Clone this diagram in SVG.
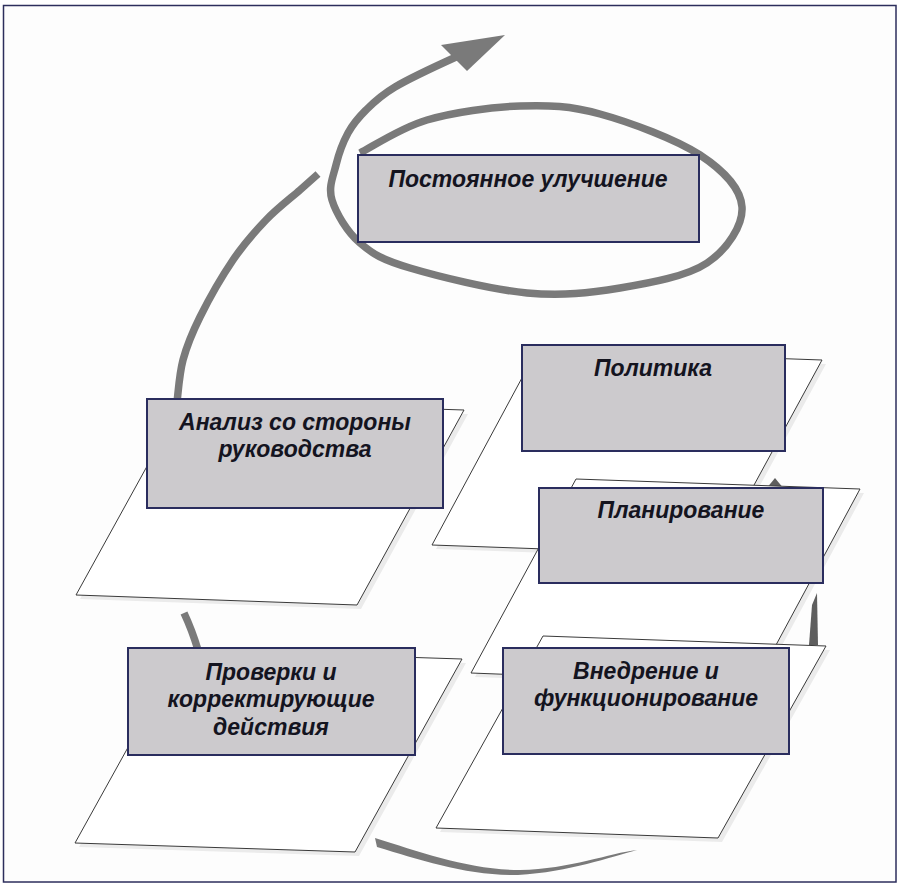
<svg xmlns="http://www.w3.org/2000/svg" width="900" height="887" viewBox="0 0 900 887">
<style>
  .plane { fill: #ffffff; stroke: #3a3a3a; stroke-width: 1; stroke-linejoin: miter; }
  .shadow { fill: #ebebeb; stroke: none; }
  .box { fill: #cccacd; stroke: #2a2d5e; stroke-width: 2; }
  .lbl { font-family: "Liberation Sans", Arial, sans-serif; font-size: 23px; font-weight: bold; font-style: italic; fill: #14141f; text-anchor: middle; }
  .band { fill: none; stroke: #7a7a7a; stroke-width: 7.5; stroke-linecap: butt; }
  .head { fill: #7a7a7a; }
  .sliver { fill: #5e5e5e; }
</style>
<rect x="0" y="0" width="900" height="887" fill="#ffffff"/>
<rect x="3.5" y="5.5" width="892.5" height="876.5" fill="#fdfdfd" stroke="#2c2e5c" stroke-width="1.5"/>

<g id="connectors">
  <!-- spiral loop around continual improvement, ending in arrowhead -->
  <path class="band" d="M360,153 C371.2,147.5 400.3,127.8 427,120 C453.7,112.2 491.2,107 520,106 C548.8,105 570,105.8 600,114 C630,122.2 676.3,139.5 700,155 C723.7,170.5 740.8,189 742,207 C743.2,225 727.3,249.5 707,263 C686.7,276.5 650,283 620,288 C590,293 562,296.3 527,293 C492,289.7 437.8,276.3 410,268 C382.2,259.7 373,254.3 360,243 C347,231.7 336,213 332,200 C328,187 333.3,176.2 336,165 C338.7,153.8 343,142.2 348,133 C353,123.8 358.2,117.7 366,110 C373.8,102.3 380.2,95.8 395,87 C409.8,78.2 445,62 456,57"/>
  <polygon class="head" points="505,35 441,45 467,71"/>
  <!-- arc from management review up toward the loop -->
  <path class="band" d="M177,402 C178,395 179.2,374.2 183,360 C186.8,345.8 191.7,333.7 200,317 C208.3,300.3 222,276.2 233,260 C244,243.8 254.8,231.7 266,220 C277.2,208.3 291.3,197.7 300,190 C308.7,182.3 315,176.7 318,174"/>
  <!-- arc from checking up to management review -->
  <path class="band" d="M184,613 Q192,630 198,650"/>
  <!-- bottom arc from implementation to checking -->
  <path class="head" d="M375,838 C420,852 470,870 520,870 C570,869 610,853 637,850 C610,857 570,872 518,875 C468,876 420,860 377,847 Z"/>
  <!-- small arrow tips on the right -->
  <polygon class="sliver" points="775,478 784,489 766,489"/>
  <polygon class="sliver" points="817,593 818,645 809,645 812,605"/>
</g>

<g id="node-politika">
  <polygon class="shadow" points="541,354 826,364 720,559 436,549"/>
  <polygon class="plane" points="537,350 822,360 716,555 432,545"/>
  <rect class="box" x="522" y="345" width="263" height="106"/>
  <text class="lbl" x="653" y="376">Политика</text>
</g>

<g id="node-planirovanie">
  <polygon class="shadow" points="580,483 864,493 759,688 475,677"/>
  <polygon class="plane" points="576,479 860,489 755,684 471,673"/>
  <rect class="box" x="539" y="488" width="284" height="95"/>
  <text class="lbl" x="681" y="518">Планирование</text>
</g>

<g id="node-vnedrenie">
  <polygon class="shadow" points="547,640 830,650 722,842 440,832"/>
  <polygon class="plane" points="543,636 826,646 718,838 436,828"/>
  <rect class="box" x="503" y="648" width="286" height="106"/>
  <text class="lbl" x="646" y="679">Внедрение и</text>
  <text class="lbl" x="646" y="706">функционирование</text>
</g>

<g id="node-analiz">
  <polygon class="shadow" points="187,405 468,414 361,609 80,599"/>
  <polygon class="plane" points="183,401 464,410 357,605 76,595"/>
  <rect class="box" x="147" y="399" width="296" height="109"/>
  <text class="lbl" x="295" y="430">Анализ со стороны</text>
  <text class="lbl" x="295" y="457">руководства</text>
</g>

<g id="node-proverki">
  <polygon class="shadow" points="186,654 466,663 359,856 79,847"/>
  <polygon class="plane" points="182,650 462,659 355,852 75,843"/>
  <rect class="box" x="128" y="648" width="287" height="107"/>
  <text class="lbl" x="271" y="680">Проверки и</text>
  <text class="lbl" x="271" y="707">корректирующие</text>
  <text class="lbl" x="271" y="735">действия</text>
</g>

<g id="node-uluchshenie">
  <rect class="box" x="358" y="155" width="341" height="87"/>
  <text class="lbl" x="528" y="187">Постоянное улучшение</text>
</g>
</svg>
